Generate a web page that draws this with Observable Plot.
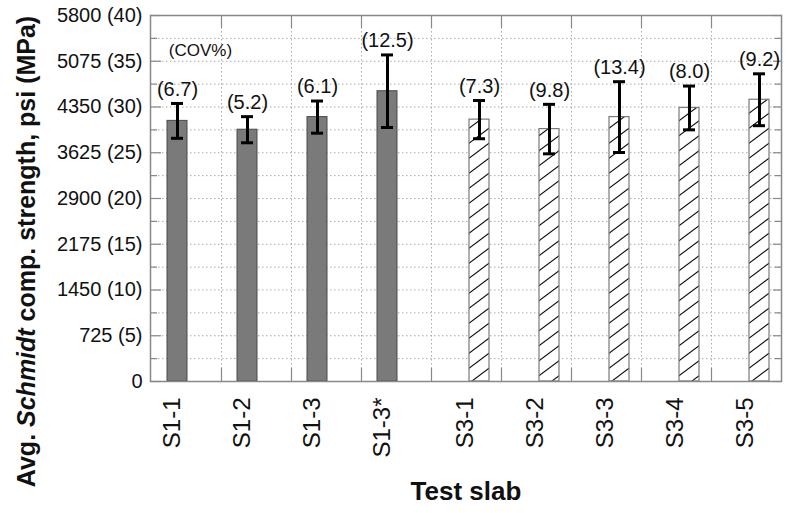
<!DOCTYPE html>
<html>
<head>
<meta charset="utf-8">
<script src="https://cdn.jsdelivr.net/npm/d3@7"></script>
<script src="https://cdn.jsdelivr.net/npm/@observablehq/plot@0.6"></script>
<style>
  body { margin: 0; background: #fff; }
  #chart svg { display: block; }
</style>
</head>
<body>
<div id="chart"></div>
<script>
// ---- Data ----
const slabs = ["S1-1", "S1-2", "S1-3", "S1-3*", "S3-1", "S3-2", "S3-3", "S3-4", "S3-5"];
const series = ["S1", "S1", "S1", "S1", "S3", "S3", "S3", "S3", "S3"];
const meanPsi = [4130, 3990, 4190, 4600, 4150, 4000, 4190, 4335, 4465];
const sdPsi = [276, 207, 255, 575, 303, 392, 561, 347, 411];
const covLabels = ["(6.7)", "(5.2)", "(6.1)", "(12.5)", "(7.3)", "(9.8)", "(13.4)", "(8.0)", "(9.2)"];
const yTicks = [0, 725, 1450, 2175, 2900, 3625, 4350, 5075, 5800];
const yTickLabels = ["0", "725 (5)", "1450 (10)", "2175 (15)", "2900 (20)", "3625 (25)", "4350 (30)", "5075 (35)", "5800 (40)"];
const yMinorTicks = [362.5, 1087.5, 1812.5, 2537.5, 3262.5, 3987.5, 4712.5, 5437.5];
const yTitle = "Avg. Schmidt comp. strength, psi (MPa)";
const xTitle = "Test slab";
const covNote = "(COV%)";

const rows = slabs.map((s, i) => ({
  slab: s, series: series[i], mean: meanPsi[i], sd: sdPsi[i],
  lo: meanPsi[i] - sdPsi[i], hi: meanPsi[i] + sdPsi[i], cov: covLabels[i]
}));
const s1 = rows.filter(d => d.series === "S1");
const s3 = rows.filter(d => d.series === "S3");
const gridY = [...yTicks.slice(1, -1), ...yMinorTicks];
const ticks = yTicks.map((v, i) => ({v, label: yTickLabels[i]}));

const FONT = "'Liberation Sans', Arial, Helvetica, sans-serif";

const chart = Plot.plot({
  width: 789,
  height: 513,
  marginLeft: 150,
  marginRight: 8,
  marginTop: 15,
  marginBottom: 132,
  style: {background: "#fff", fontFamily: FONT, color: "#111"},
  x: {type: "band", domain: slabs, padding: 0, axis: null},
  y: {domain: [0, 5800], axis: null},
  marks: [
    // dotted grid
    Plot.ruleY(gridY, {stroke: "#aaa", strokeDasharray: "1.5,2.5", strokeWidth: 1}),
    Plot.ruleX(slabs.slice(1), {x: d => d, dx: -35, stroke: "#aaa", strokeDasharray: "1.5,2.5", strokeWidth: 1}),
    // inward ticks on x (band boundaries) top & bottom
    Plot.ruleX(slabs.slice(1), {x: d => d, dx: -35, insetTop: 353, stroke: "#888", strokeWidth: 1.2}),
    Plot.ruleX(slabs.slice(1), {x: d => d, dx: -35, insetBottom: 353, stroke: "#888", strokeWidth: 1.2}),
    // inward y ticks left & right
    Plot.ruleY(yTicks, {insetRight: 620, stroke: "#888", strokeWidth: 1.2}),
    Plot.ruleY(yTicks, {insetLeft: 623, stroke: "#888", strokeWidth: 1.2}),
    Plot.ruleY(yMinorTicks, {insetRight: 624, stroke: "#888", strokeWidth: 1.2}),
    Plot.ruleY(yMinorTicks, {insetLeft: 625, stroke: "#888", strokeWidth: 1.2}),
    // bars
    Plot.barY(s1, {x: "slab", y: "mean", fill: "#7a7a7a", stroke: "#4a4a4a", strokeWidth: 1, insetLeft: 16, insetRight: 34}),
    Plot.barY(s3, {x: "slab", y: "mean", fill: "url(#hatch)", stroke: "#7a7a7a", strokeWidth: 1.2, insetLeft: 38, insetRight: 12}),
    // error bars
    Plot.ruleX(s1, {x: "slab", y1: "lo", y2: "hi", dx: -9, stroke: "#000", strokeWidth: 3}),
    Plot.ruleX(s3, {x: "slab", y1: "lo", y2: "hi", dx: 13, stroke: "#000", strokeWidth: 3}),
    Plot.tickY(s1, {x: "slab", y: "lo", insetLeft: 20, insetRight: 38, stroke: "#000", strokeWidth: 3}),
    Plot.tickY(s1, {x: "slab", y: "hi", insetLeft: 20, insetRight: 38, stroke: "#000", strokeWidth: 3}),
    Plot.tickY(s3, {x: "slab", y: "lo", insetLeft: 42, insetRight: 16, stroke: "#000", strokeWidth: 3}),
    Plot.tickY(s3, {x: "slab", y: "hi", insetLeft: 42, insetRight: 16, stroke: "#000", strokeWidth: 3}),
    // COV labels
    Plot.text(s1, {x: "slab", y: "hi", text: "cov", dx: -9, dy: -14, fontSize: 20, fill: "#111"}),
    Plot.text(s3, {x: "slab", y: "hi", text: "cov", dx: 13, dy: -14, fontSize: 20, fill: "#111"}),
    Plot.text([covNote], {frameAnchor: "top-left", text: d => d, dx: 50, dy: 28, textAnchor: "middle", fontSize: 17, fill: "#111"}),
    // y tick labels
    Plot.text(ticks, {y: "v", text: "label", frameAnchor: "left", dx: -8, textAnchor: "end", fontSize: 20, fill: "#111"}),
    // x tick labels (rotated)
    Plot.text(s1, {x: "slab", text: "slab", frameAnchor: "bottom", rotate: -90, textAnchor: "end", dx: -7, dy: 16, fontSize: 24, fill: "#111"}),
    Plot.text(s3, {x: "slab", text: "slab", frameAnchor: "bottom", rotate: -90, textAnchor: "end", dx: 6, dy: 16, fontSize: 24, fill: "#111"}),
    // axis titles
    Plot.text([xTitle], {frameAnchor: "bottom", text: d => d, dy: 118, textAnchor: "middle", fontSize: 26, fontWeight: "bold", fill: "#111"}),
    Plot.text([yTitle], {frameAnchor: "left", text: d => d, rotate: -90, textAnchor: "middle", dx: -124, dy: 53, fontSize: 25, fontWeight: "bold", fill: "#111"}),
    Plot.frame({stroke: "#888", strokeWidth: 1.5})
  ]
});

// hatch pattern definition
const ns = "http://www.w3.org/2000/svg";
const defs = document.createElementNS(ns, "defs");
defs.innerHTML = `<pattern id="hatch" patternUnits="userSpaceOnUse" width="20" height="15">
  <rect width="20" height="15" fill="#fff"/>
  <path d="M-5,18.75 L25,-3.75" stroke="#111" stroke-width="1.1"/>
  <path d="M-5,3.75 L5,-3.75 M15,18.75 L25,11.25" stroke="#111" stroke-width="1.1"/>
</pattern>`;
chart.insertBefore(defs, chart.firstChild);

// italicize "Schmidt" in the y title
chart.querySelectorAll("text").forEach(t => {
  if (t.textContent === yTitle) {
    t.textContent = "";
    const parts = [["Avg. ", null], ["Schmidt", "italic"], [" comp. strength, psi (MPa)", null]];
    for (const [s, st] of parts) {
      const ts = document.createElementNS(ns, "tspan");
      ts.textContent = s;
      if (st) ts.setAttribute("font-style", st);
      t.appendChild(ts);
    }
  }
});

document.getElementById("chart").appendChild(chart);
</script>
</body>
</html>
